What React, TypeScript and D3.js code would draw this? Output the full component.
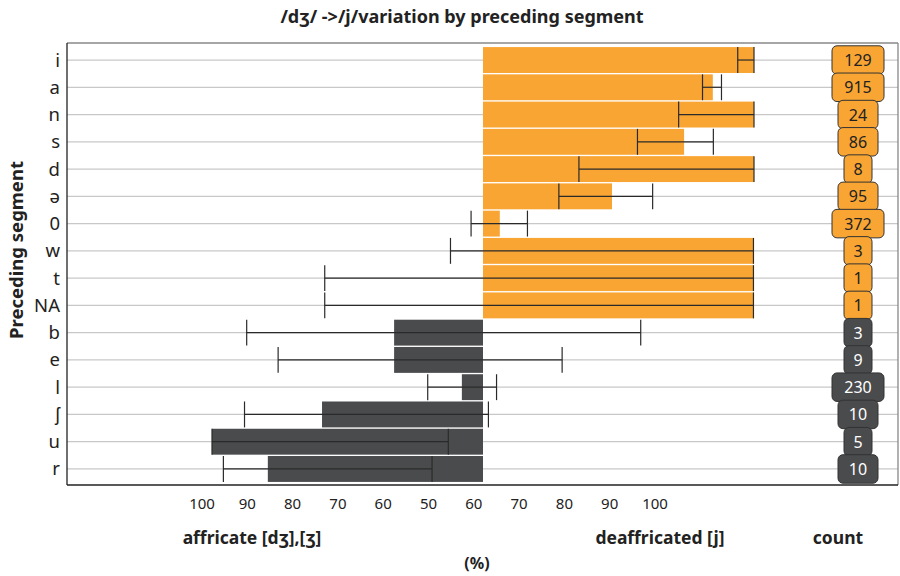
import * as d3 from 'd3';

// preceding segments, top to bottom
const segments = ['i', 'a', 'n', 's', 'd', 'ə', '0', 'w', 't', 'NA', 'b', 'e', 'l', 'ʃ', 'u', 'r'];
// % deaffricated [j] (bar ends at this value, measured from 50)
const pctDeaffricated = [100, 92.4, 100, 87.1, 100, 73.8, 53.1, 99.9, 100, 100, 33.6, 33.6, 46.1, 20.3, 0, 10.3];
// confidence interval, low / high
const ciLow = [97.0, 90.5, 86.1, 78.5, 67.7, 64.0, 47.8, 44.0, 20.8, 20.8, 6.4, 12.2, 39.8, 6.0, 0, 2.1];
const ciHigh = [100, 94.0, 100, 92.5, 100, 81.3, 58.2, 99.9, 99.9, 99.9, 79.1, 64.6, 52.5, 51.0, 43.6, 40.6];
const counts = [129, 915, 24, 86, 8, 95, 372, 3, 1, 1, 3, 9, 230, 10, 5, 10];
const tickLabels = ['100', '90', '80', '70', '60', '50', '60', '70', '80', '90', '100'];

const W = 900;
const H = 576;
const FONT = '"Noto Sans", "DejaVu Sans", sans-serif';
const ORANGE = '#f8a533';
const DARK = '#4a4b4d';

const panel = { left: 67, right: 898, top: 43, bottom: 485 };

export default function App() {
  const x = d3.scaleLinear().domain([0, 100]).range([212, 754]);
  const y = d3.scaleBand<string>()
    .domain(segments)
    .range([46.4, 482.6])
    .paddingInner(0.05)
    .paddingOuter(0.025);
  const tickX = d3.scalePoint<number>()
    .domain(d3.range(tickLabels.length))
    .range([202, 655]);

  const bh = y.bandwidth();
  const mid = (s: string) => (y(s) as number) + bh / 2;
  const countX = 858;

  return (
    <svg width={W} height={H} style={{ position: 'absolute', left: 0, top: 0, fontFamily: FONT }}>
      <rect width={W} height={H} fill="#fff" />

      <text x={462} y={23} textAnchor="middle" fontSize={18} fontWeight={700} fill="#222">
        /dʒ/ -&gt;/j/variation by preceding segment
      </text>

      {/* grid lines */}
      {segments.map(s => (
        <line key={'g' + s} x1={panel.left} x2={panel.right} y1={mid(s)} y2={mid(s)}
          stroke="#c8c8c8" strokeWidth={1.3} />
      ))}

      {/* bars */}
      {segments.map((s, i) => {
        const v = pctDeaffricated[i];
        const x0 = Math.min(x(50), x(v));
        const w = Math.abs(x(v) - x(50));
        return (
          <rect key={'b' + s} x={x0} y={y(s)} width={w} height={bh}
            fill={v >= 50 ? ORANGE : DARK} />
        );
      })}

      {/* error bars */}
      {segments.map((s, i) => {
        const lo = x(ciLow[i]);
        const hi = x(ciHigh[i]);
        const y0 = y(s) as number;
        const ym = mid(s);
        return (
          <g key={'e' + s} stroke="#2a2a2a" strokeWidth={1.2}>
            <line x1={lo} x2={hi} y1={ym} y2={ym} />
            <line x1={lo} x2={lo} y1={y0} y2={y0 + bh} />
            <line x1={hi} x2={hi} y1={y0} y2={y0 + bh} />
          </g>
        );
      })}

      {/* count labels */}
      {segments.map((s, i) => {
        const txt = String(counts[i]);
        const bw = 16 + 12 * txt.length;
        const bx = 28.5;
        const light = pctDeaffricated[i] >= 50;
        return (
          <g key={'c' + s}>
            <rect x={countX - bw / 2} y={mid(s) - bx / 2} width={bw} height={bx} rx={5}
              fill={light ? ORANGE : DARK} stroke="#333" strokeWidth={1} />
            <text x={countX} y={mid(s) + 6} textAnchor="middle" fontSize={16}
              fill={light ? '#222' : '#fff'}>{txt}</text>
          </g>
        );
      })}

      {/* panel frame */}
      <line x1={panel.left} x2={panel.right} y1={panel.top} y2={panel.top} stroke="#888" strokeWidth={1.3} />
      <line x1={panel.right} x2={panel.right} y1={panel.top} y2={panel.bottom} stroke="#888" strokeWidth={1.3} />
      <line x1={panel.left} x2={panel.left} y1={panel.top} y2={panel.bottom} stroke="#222" strokeWidth={1.3} />
      <line x1={panel.left} x2={panel.right} y1={panel.bottom} y2={panel.bottom} stroke="#222" strokeWidth={1.3} />

      {/* y labels */}
      {segments.map(s => (
        <text key={'y' + s} x={60} y={mid(s) + 6.5} textAnchor="end" fontSize={18.5} fill="#222">{s}</text>
      ))}
      <text transform={`translate(23,250) rotate(-90)`} textAnchor="middle" fontSize={18.5}
        fontWeight={700} fill="#222">Preceding segment</text>

      {/* x tick labels */}
      {tickLabels.map((t, i) => (
        <text key={'t' + i} x={tickX(i)} y={509} textAnchor="middle" fontSize={15} fill="#222">{t}</text>
      ))}

      <text x={252} y={544} textAnchor="middle" fontSize={17.5} fontWeight={700} fill="#222">affricate [dʒ],[ʒ]</text>
      <text x={660} y={544} textAnchor="middle" fontSize={17.5} fontWeight={700} fill="#222">deaffricated [j]</text>
      <text x={838} y={544} textAnchor="middle" fontSize={17.5} fontWeight={700} fill="#222">count</text>
      <text x={477} y={569} textAnchor="middle" fontSize={16} fontWeight={700} fill="#222">(%)</text>
    </svg>
  );
}
